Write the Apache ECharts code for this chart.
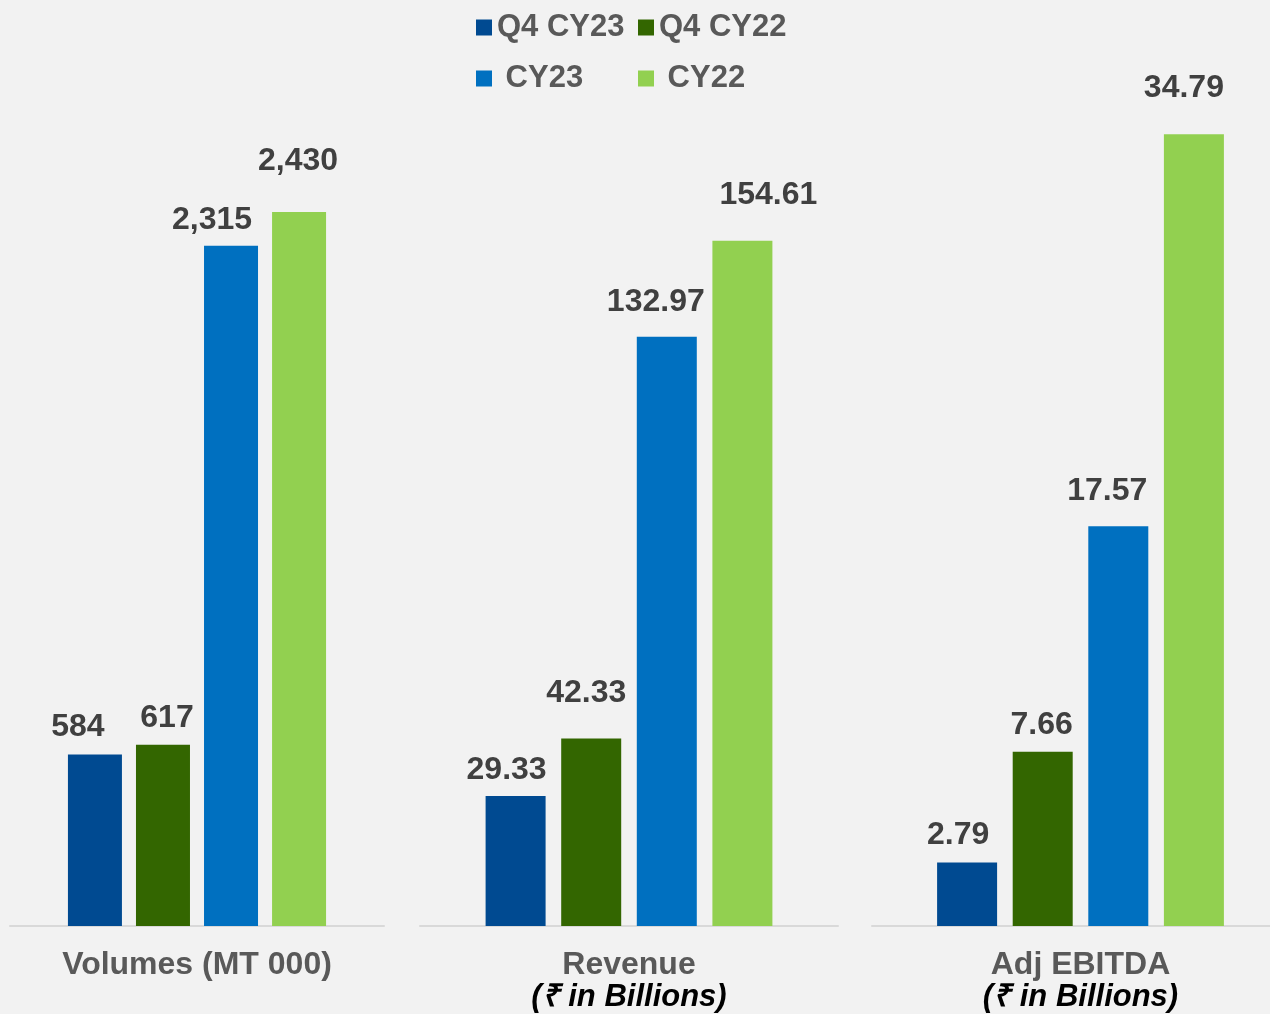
<!DOCTYPE html>
<html>
<head>
<meta charset="utf-8">
<style>
  html, body { margin: 0; padding: 0; background: #f2f2f2; }
  #chart { width: 1270px; height: 1014px; }
</style>
<script src="https://cdn.jsdelivr.net/npm/echarts@6/dist/echarts.min.js"></script>
</head>
<body>
<div id="chart"></div>
<script>
// chart data
var categories = ['Volumes (MT 000)', 'Revenue', 'Adj EBITDA'];
var subtitles = ['', '(₹ in Billions)', '(₹ in Billions)'];
var seriesNames = ['Q4 CY23', 'Q4 CY22', 'CY23', 'CY22'];
var q4cy23 = [584, 29.33, 2.79];
var q4cy22 = [617, 42.33, 7.66];
var cy23 = [2315, 132.97, 17.57];
var cy22 = [2430, 154.61, 34.79];

var colors = ['#004a91', '#336600', '#0070c0', '#92d050'];
var font = "'Liberation Sans', Arial, sans-serif";

// each panel has its own scale
var panelGrids = [
  { left: 10, width: 374 },
  { left: 420, width: 418 },
  { left: 872, width: 417 }
];
var axisMax = [2811, 186.4, 36.3];
var barWidths = [54, 60, 60];
// hand placed labels, as in the slide
var labelOffsets = [
  [[-17, -6], [4, -6], [-19, -5], [-1, -30]],
  [[-9, -5], [-5, -24], [-11, -14], [26, -25]],
  [[-9, -6], [-1, -6], [-11, -14], [-10, -25]]
];

function fmt(p, v) {
  if (p === 0) {
    return v.toLocaleString('en-US');
  }
  return v.toFixed(2);
}

var chart = echarts.init(document.getElementById('chart'));
var values = [q4cy23, q4cy22, cy23, cy22];

var grids = [], xAxes = [], yAxes = [], series = [];
categories.forEach(function (cat, p) {
  grids.push({
    left: panelGrids[p].left,
    width: panelGrids[p].width,
    top: 100,
    bottom: 88,
    outerBoundsMode: 'none'
  });
  xAxes.push({
    type: 'category',
    gridIndex: p,
    data: [cat],
    axisTick: { show: false },
    axisLine: { lineStyle: { color: '#d9d9d9', width: 2 } },
    axisLabel: {
      margin: 23,
      formatter: function (v) {
        return subtitles[p] ? '{a|' + v + '}\n{b|' + subtitles[p] + '}' : '{a|' + v + '}';
      },
      rich: {
        a: { fontFamily: font, fontSize: 32, fontWeight: 'bold', color: '#595959', lineHeight: 32 },
        b: { fontFamily: font, fontSize: 31, fontWeight: 'bold', fontStyle: 'italic', color: '#000000', lineHeight: 32 }
      }
    }
  });
  yAxes.push({ type: 'value', gridIndex: p, min: 0, max: axisMax[p], show: false });
  seriesNames.forEach(function (name, s) {
    series.push({
      type: 'bar',
      name: name,
      xAxisIndex: p,
      yAxisIndex: p,
      data: [values[s][p]],
      barWidth: barWidths[p],
      barGap: '26%',
      itemStyle: { color: colors[s] },
      label: {
        show: true,
        position: 'top',
        offset: labelOffsets[p][s],
        fontFamily: font,
        fontSize: 32,
        fontWeight: 'bold',
        color: '#404040',
        formatter: function (d) { return fmt(p, d.value); }
      }
    });
  });
});

var option = {
  backgroundColor: '#f2f2f2',
  animation: false,
  legend: {
    data: seriesNames,
    left: 476,
    top: 7,
    width: 320,
    padding: 0,
    itemWidth: 16,
    itemHeight: 16,
    itemGap: 10,
    icon: 'rect',
    formatter: function (n) { return n.indexOf('Q4') === 0 ? n : ' ' + n; },
    textStyle: {
      fontFamily: font,
      fontSize: 31,
      fontWeight: 'bold',
      color: '#595959',
      width: 131,
      lineHeight: 41
    }
  },
  grid: grids,
  xAxis: xAxes,
  yAxis: yAxes,
  series: series
};
chart.setOption(option);
</script>
</body>
</html>
